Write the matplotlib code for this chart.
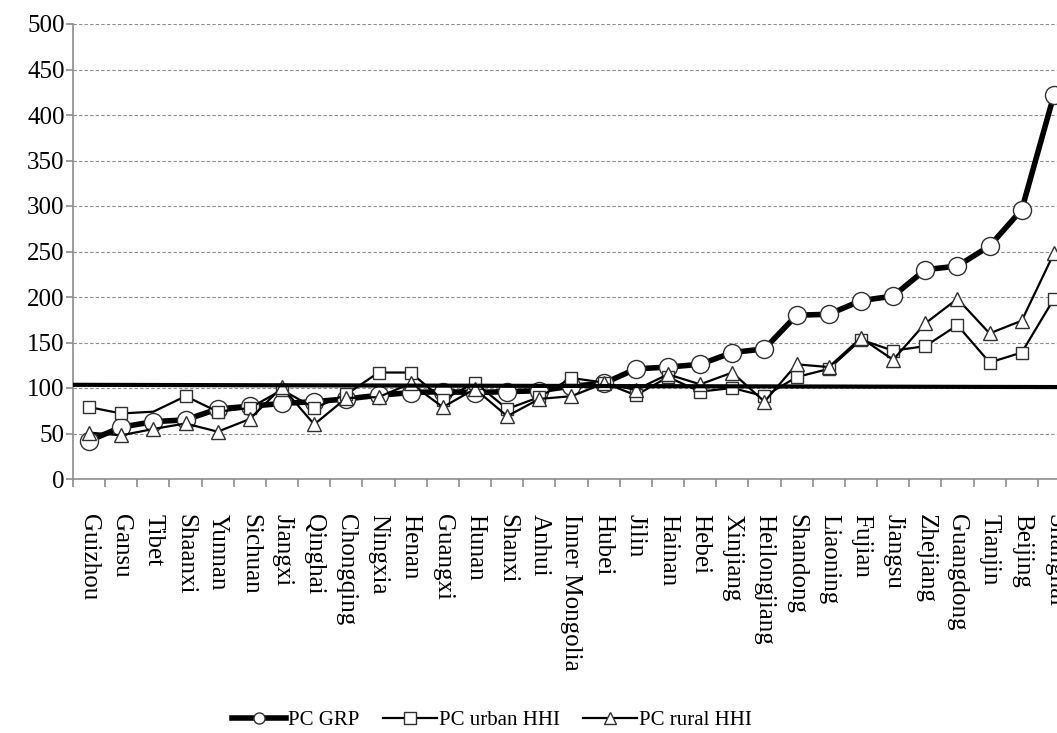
import matplotlib
matplotlib.use("Agg")
import matplotlib.pyplot as plt
from matplotlib.ticker import MultipleLocator, FixedLocator

plt.rcParams['font.family'] = ['Liberation Serif', 'DejaVu Serif']

provinces = ["Guizhou", "Gansu", "Tibet", "Shaanxi", "Yunnan", "Sichuan", "Jiangxi",
             "Qinghai", "Chongqing", "Ningxia", "Henan", "Guangxi", "Hunan", "Shanxi",
             "Anhui", "Inner Mongolia", "Hubei", "Jilin", "Hainan", "Hebei", "Xinjiang",
             "Heilongjiang", "Shandong", "Liaoning", "Fujian", "Jiangsu", "Zhejiang",
             "Guangdong", "Tianjin", "Beijing", "Shanghai"]

pc_grp = [42, 57, 63, 65, 77, 80, 83, 85, 88, 92, 95, 96, 95, 96, 97, 102, 105,
          121, 123, 126, 139, 143, 180, 181, 196, 201, 230, 234, 256, 296, 422]
pc_urban = [79, 72, 74, 91, 74, 78, 98, 78, 93, 117, 117, 87, 106, 77, 90, 111, 106,
            92, 112, 96, 100, 91, 112, 121, 153, 141, 146, 169, 128, 139, 198]
pc_rural = [51, 48, 55, 61, 52, 66, 101, 60, 89, 90, 105, 79, 99, 69, 88, 91, 105,
            98, 115, 104, 117, 85, 126, 123, 155, 131, 171, 198, 160, 174, 248]

# national average reference line (left end, right end)
ref_line = [103.5, 101.0]

fig = plt.figure(figsize=(10.57, 7.33), dpi=100)
ax = fig.add_axes([73 / 1057, 1 - 479 / 733, (1070 - 73) / 1057, (479 - 24) / 733])

x = list(range(len(provinces)))
edge = '#303030'

ax.plot(x, pc_grp, color='black', lw=4.0, marker='o', ms=13, mfc='white',
        mec=edge, mew=1.0, zorder=3, label='PC GRP')
urban_marks = [i for i in x if provinces[i] != "Tibet"]
ax.plot(x, pc_urban, color='black', lw=1.6, marker='s', ms=8.5, mfc='white',
        mec=edge, mew=1.0, zorder=4, markevery=urban_marks, label='PC urban HHI')
ax.plot(x, pc_rural, color='black', lw=1.6, marker='^', ms=9.5, mfc='white',
        mec=edge, mew=1.0, zorder=5, label='PC rural HHI')

ax.plot([-0.5, len(provinces) - 0.5], ref_line, color='black', lw=3.0, zorder=6,
        solid_capstyle='butt')

ax.set_xlim(-0.5, len(provinces) - 0.5)
ax.set_ylim(0, 500)
ax.yaxis.set_major_locator(MultipleLocator(50))
ax.grid(axis='y', color='#8c8c8c', lw=0.8, linestyle=(0, (3, 2)))
ax.set_axisbelow(True)

for s in ['top', 'right']:
    ax.spines[s].set_visible(False)
for s in ['left', 'bottom']:
    ax.spines[s].set_color('#8c8c8c')
    ax.spines[s].set_linewidth(1.2)

ax.set_xticks(x)
ax.set_xticklabels(provinces, rotation=270, ha='center', va='top', fontsize=18)
ax.xaxis.set_minor_locator(FixedLocator([i - 0.5 for i in range(len(provinces) + 1)]))
ax.tick_params(axis='x', which='major', length=0, pad=25)
ax.tick_params(axis='x', which='minor', length=6, color='#8c8c8c', width=1.2)
ax.tick_params(axis='y', length=5, color='#8c8c8c', width=1.2, labelsize=18, pad=1)

leg = fig.legend(loc='center', bbox_to_anchor=(492 / 1057, 1 - 720 / 733), ncol=3,
                 frameon=False, fontsize=15, handlelength=2.6, handletextpad=0.1,
                 columnspacing=1.1, borderpad=0)
for h in leg.legend_handles:
    h.set_markersize(8)

fig.savefig('out.png', dpi=100)
